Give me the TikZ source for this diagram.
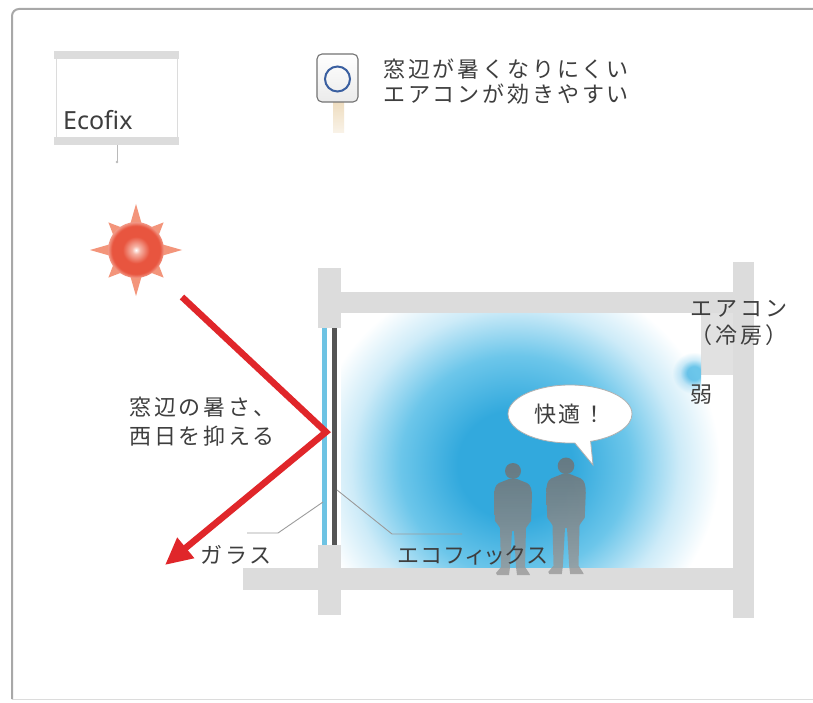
\documentclass[tikz,border=0pt]{standalone}
\usepackage{fontspec}
\usetikzlibrary{arrows.meta,shapes.callouts}
\newfontfamily\jpfont[LetterSpace=13]{Noto Sans CJK JP}
\newfontfamily\jpprop[LetterSpace=12,RawFeature=+palt]{Noto Sans CJK JP}
\newfontfamily\latinfont{Noto Sans}

\definecolor{framegray}{HTML}{A8A8A8}
\definecolor{wallgray}{HTML}{DCDCDC}
\definecolor{textgray}{HTML}{3E3E3E}
\definecolor{leadgray}{HTML}{9C9C9C}
\definecolor{glassblue}{HTML}{6EC3E3}
\definecolor{filmgray}{HTML}{555555}
\definecolor{arrowred}{HTML}{E0262A}
\definecolor{sunred}{HTML}{E8553F}
\definecolor{sunpink}{HTML}{F6B4A6}
\definecolor{sunrim}{HTML}{F29A88}
\definecolor{rayorange}{HTML}{F07B5A}
\definecolor{airdeep}{HTML}{32A9DD}
\definecolor{airmid}{HTML}{6CC6EA}
\definecolor{airpale}{HTML}{CDEBF8}
\definecolor{mangray}{HTML}{707070}
\definecolor{bubblegray}{HTML}{B0B0B0}
\definecolor{signblue}{HTML}{3A5FA0}
\definecolor{stickbeige}{HTML}{EEDCBE}

% radial stops: the edge of the filled path's bounding box sits at 25bp
\pgfdeclareradialshading{sunball}{\pgfpoint{0bp}{0bp}}{color(0bp)=(white); color(3.5bp)=(sunpink); color(12bp)=(sunred); color(21.5bp)=(sunred); color(25bp)=(sunrim); color(50bp)=(sunrim)}
\pgfdeclareradialshading{coolair}{\pgfpoint{0bp}{0bp}}{color(0bp)=(airdeep); color(7bp)=(airdeep); color(14bp)=(airmid); color(20bp)=(airpale); color(25bp)=(white); color(50bp)=(white)}
\pgfdeclareradialshading{acbreeze}{\pgfpoint{0bp}{0bp}}{color(0bp)=(airmid); color(8bp)=(airmid); color(16bp)=(airpale); color(25bp)=(white); color(50bp)=(white)}

\tikzset{
  jptext/.style={font=\jpfont\fontsize{22}{26}\selectfont, text=textgray, inner sep=0pt},
  jpproptext/.style={font=\jpprop\fontsize{22}{26}\selectfont, text=textgray, inner sep=0pt},
  latintext/.style={font=\latinfont\fontsize{25}{30}\selectfont, text=textgray, inner sep=0pt},
  wall/.style={fill=wallgray},
  leader/.style={draw=leadgray, line width=0.9pt},
  sunarrow/.style={draw=arrowred, line width=6.5pt, line join=miter,
    -{Triangle[length=27pt,width=25pt]}},
  man/.pic={
    \shade[top color=mangray, bottom color=mangray!70, opacity=0.82]
      (-4,-96) -- (-14,-92) .. controls (-18,-90) and (-19,-85) .. (-19,-78)
      -- (-18,-54) -- (-15,-50) -- (-13,-47) -- (-12,-8) -- (-17,-2) -- (-16,0)
      -- (-4,0) -- (-3,-8) -- (-1,-44) -- (1,-44) -- (3,-8) -- (4,0) -- (17,0)
      -- (16,-2) -- (12,-8) -- (13,-47) -- (15,-50) -- (18,-54) -- (19,-78)
      .. controls (19,-85) and (18,-90) .. (14,-92) -- (4,-96) -- cycle
      (0,-104) circle (8);
  }
}

\begin{document}
\begin{tikzpicture}[x=1pt, y=-1pt]
\useasboundingbox (0,0) rectangle (813,703);
\fill[white] (0,0) rectangle (813,703);

% outer frame
\draw[framegray!40, line width=1pt] (12,699) -- (813,699);
\draw[framegray, line width=2pt, rounded corners=7pt] (12,699) -- (12,9) -- (813,9);

% Ecofix placeholder box
\fill[wallgray] (54,51) rectangle (179,59);
\fill[wallgray] (54,137) rectangle (179,145);
\draw[wallgray, line width=0.8pt] (56,59) -- (56,137) (177,59) -- (177,137);
\node[latintext, anchor=base west] (ecofix) at (63,130) {Ecofix};
\coordinate (stemTop) at (117,145);
\coordinate (stemEnd) at (117,162);
\draw[leadgray!70, line width=0.8pt] (stemTop) -- (stemEnd);
\fill[leadgray!70] (stemEnd) circle (1.3);

% sign with circle mark
\shade[top color=stickbeige, bottom color=stickbeige!35] (333,101) rectangle (344,133);
\shade[top color=white, bottom color=black!8, draw=black!55, line width=1.1pt, rounded corners=5pt]
  (317,54) rectangle (358,102);
\draw[signblue, line width=2pt] (337.5,79) circle (12.5);
\node[jptext, anchor=base west] (hotLine) at (383,78) {窓辺が暑くなりにくい};
\node[jptext, anchor=base west] (acLine) at (383,103) {エアコンが効きやすい};

% sun
\begin{scope}[shift={(136,250)}]
  \foreach \a/\r in {0/46,45/39,90/46,135/39,180/46,225/39,270/46,315/39}
    \fill[rayorange, opacity=0.8] (\a+12:27) -- (\a:\r) -- (\a-12:27) -- cycle;
  \shade[shading=sunball] (0,0) circle (28);
\end{scope}

% cool air inside the room
\begin{scope}
  \clip (341,313) rectangle (733,568);
  \shade[shading=coolair] (310,270) rectangle (720,660);
\end{scope}

% building section
\fill[wall] (318,268) rectangle (341,328);
\fill[wall] (318,545) rectangle (341,615);
\fill[wall] (341,292) rectangle (733,313);
\fill[wall] (733,262) rectangle (754,618);
\fill[wall] (243,568) rectangle (733,590);
\fill[wallgray!85] (701,313) rectangle (733,375);

% cold air from the air conditioner, multiplied over the room air
\begin{scope}
  \clip (660,340) rectangle (701,400);
  \shade[shading=acbreeze, blend mode=multiply] (672,352) rectangle (716,394);
\end{scope}

% glass and film
\fill[glassblue] (322,328) rectangle (327,545);
\fill[filmgray] (332,328) rectangle (337,545);

% people
\pic at (513,575) {man};
\pic[scale=1.04] at (566,574) {man};

% speech bubble
\node[ellipse callout, draw=bubblegray, fill=white, line width=0.8pt,
  minimum width=124pt, minimum height=58pt,
  callout absolute pointer={(593,465)}, jptext] (bubble) at (570,414) {快適！};

% reflected sunlight
\coordinate (rayStart) at (182,297);
\coordinate (rayHit) at (326,432);
\coordinate (rayOut) at (165,565);
\draw[sunarrow] (rayStart) -- (rayHit) -- (rayOut);

% labels
\node[jptext, anchor=base west] (westA) at (129,415) {窓辺の暑さ、};
\node[jptext, anchor=base west] (westB) at (129,444) {西日を抑える};
\node[jptext, anchor=base west] (glassLbl) at (200,563) {ガラス};
\node[jpproptext, anchor=base west] (filmLbl) at (398,563) {エコフィックス};
\node[jptext, anchor=base] (acLbl) at (739,316) {エアコン};
\node[jptext, anchor=base] (acMode) at (739,343) {（冷房）};
\node[jptext, anchor=base west] (weak) at (690,402) {弱};

% leader lines
\coordinate (glassPt) at (323,502);
\coordinate (glassKnee) at (278,533);
\coordinate (glassEnd) at (247,533);
\draw[leader] (glassEnd) -- (glassKnee) -- (glassPt);
\coordinate (filmPt) at (337,490);
\coordinate (filmKnee) at (392,534);
\coordinate (filmEnd) at (462,534);
\draw[leader] (filmPt) -- (filmKnee) -- (filmEnd);
\end{tikzpicture}
\end{document}
